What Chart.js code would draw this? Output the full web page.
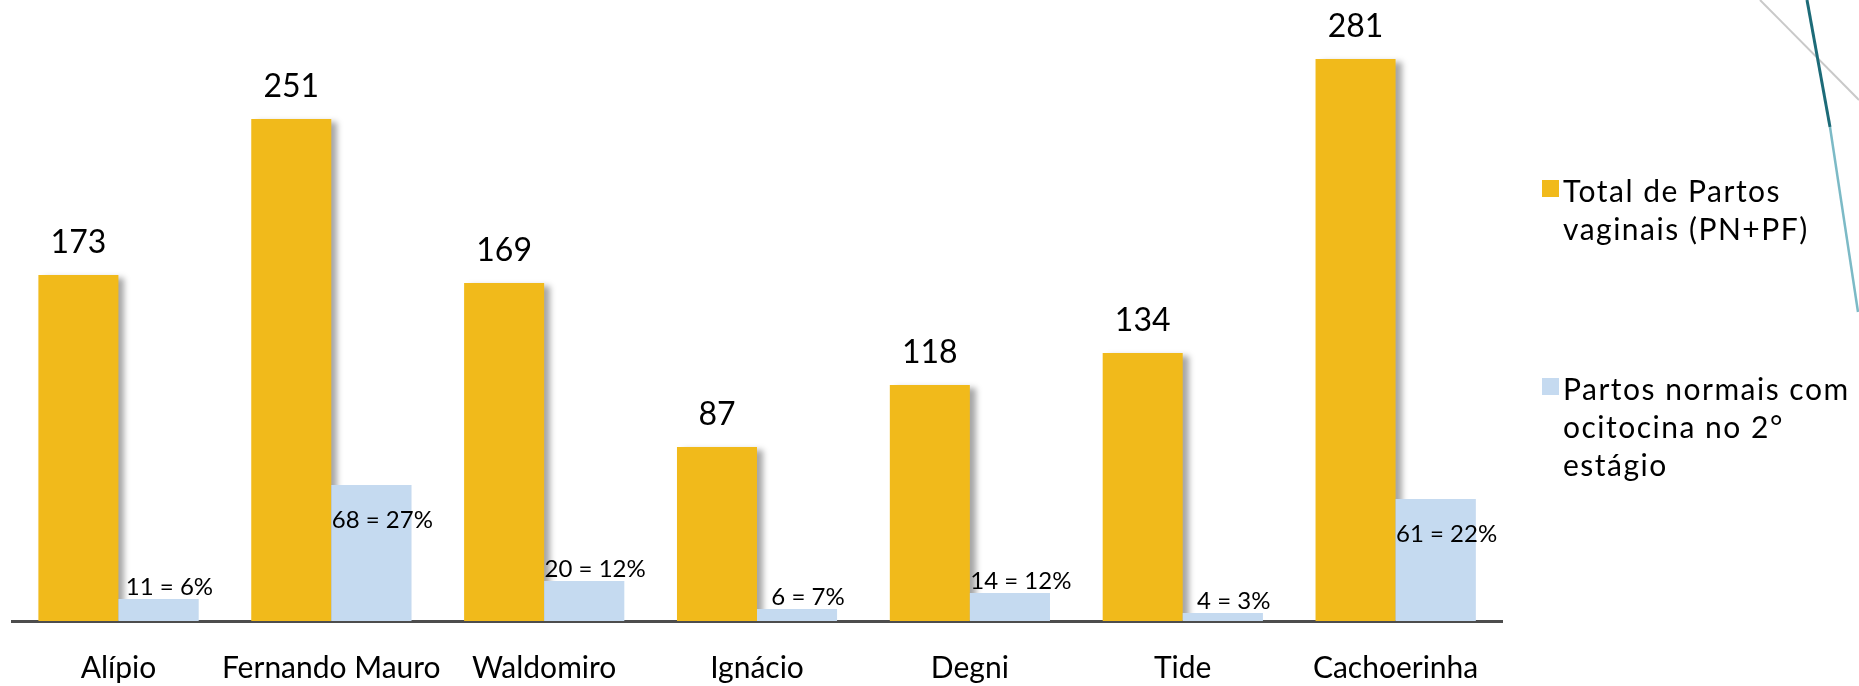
<!DOCTYPE html>
<html>
<head>
<meta charset="utf-8">
<script src="https://cdn.jsdelivr.net/npm/chart.js@4.4.1/dist/chart.umd.min.js"></script>
<style>
  html, body { margin: 0; padding: 0; background: #fff; }
  #wrap { position: relative; width: 1859px; height: 686px; overflow: hidden; }
  #chart { position: absolute; left: 0; top: 0; }
  .legend-item { position: absolute; left: 1542px; font-family: Lato, sans-serif; font-size: 30px; line-height: 38px; letter-spacing: 1.5px; color: #000; }
  .legend-item .box { position: absolute; left: 0; top: 9px; width: 17px; height: 17px; }
  .legend-item .txt { margin-left: 21px; white-space: nowrap; }
  #deco { position: absolute; left: 0; top: 0; }
</style>
</head>
<body>
<div id="wrap">
  <canvas id="chart" width="1859" height="686"></canvas>
  <svg id="deco" width="1859" height="686">
    <line x1="1760" y1="0" x2="1859" y2="100" stroke="#c9c9c9" stroke-width="2"/>
    <line x1="1807" y1="0" x2="1830" y2="127" stroke="#1d6b78" stroke-width="3"/>
    <line x1="1830" y1="127" x2="1858" y2="312" stroke="#7cbac6" stroke-width="2.5"/>
  </svg>
  <div id="legend"></div>
</div>
<script>
// dados
const maternidades = ['Alípio', 'Fernando Mauro', 'Waldomiro', 'Ignácio', 'Degni', 'Tide', 'Cachoerinha'];
const totalVaginais = [173, 251, 169, 87, 118, 134, 281];
const ocitocina = [11, 68, 20, 6, 14, 4, 61];
const seriesLabels = [
  ['Total de Partos', 'vaginais (PN+PF)'],
  ['Partos normais com', 'ocitocina no 2°', 'estágio'],
];

const GOLD = '#F1BA1B';
const BLUE = '#C5DAF0';

// sombra só nas barras amarelas
const shadowPlugin = {
  id: 'barShadow',
  beforeDatasetDraw(chart, args) {
    if (args.index !== 0) return;
    const ctx = chart.ctx;
    ctx.save();
    ctx.shadowColor = 'rgba(0,0,0,0.35)';
    ctx.shadowBlur = 6;
    ctx.shadowOffsetX = 6;
    ctx.shadowOffsetY = 3;
  },
  afterDatasetDraw(chart, args) {
    if (args.index !== 0) return;
    chart.ctx.restore();
  },
};

const labelPlugin = {
  id: 'barLabels',
  afterDatasetsDraw(chart) {
    const ctx = chart.ctx;
    // azul por cima da sombra das barras amarelas
    chart.getDatasetMeta(1).data.forEach((bar) => bar.draw(ctx));

    ctx.save();
    ctx.fillStyle = '#000';
    ctx.textAlign = 'center';
    ctx.font = '32px Lato';
    ctx.textBaseline = 'alphabetic';
    chart.getDatasetMeta(0).data.forEach((bar, i) => {
      ctx.fillText(String(totalVaginais[i]), bar.x, bar.y - 22);
    });
    ctx.font = '24px Lato';
    ctx.textBaseline = 'middle';
    chart.getDatasetMeta(1).data.forEach((bar, i) => {
      const pct = Math.round((ocitocina[i] / totalVaginais[i]) * 100);
      const y = ocitocina[i] > 40 ? bar.y + 35 : bar.y - 12;
      ctx.fillText(ocitocina[i] + ' = ' + pct + '%', bar.x + 11, y);
    });
    ctx.restore();
  },
};

const chart = new Chart(document.getElementById('chart'), {
  type: 'bar',
  data: {
    labels: maternidades,
    datasets: [
      { label: seriesLabels[0], data: totalVaginais, backgroundColor: GOLD },
      { label: seriesLabels[1], data: ocitocina, backgroundColor: BLUE },
    ],
  },
  options: {
    responsive: false,
    animation: false,
    layout: { padding: { left: 12, right: 357, top: 21, bottom: 0 } },
    datasets: { bar: { barPercentage: 1, categoryPercentage: 0.752 } },
    plugins: { legend: { display: false }, tooltip: { enabled: false } },
    scales: {
      x: {
        grid: { display: false, drawTicks: false },
        border: { display: true, color: '#4d4d4d', width: 3 },
        ticks: { color: '#000', font: { family: 'Lato', size: 30, lineHeight: 1.1 }, padding: 31, maxRotation: 0, autoSkip: false },
        afterFit: (scale) => { scale.height = 65; },
      },
      y: { display: false, min: 0, max: 300 },
    },
  },
  plugins: [shadowPlugin, labelPlugin],
});

// legenda em HTML, com as cores dos datasets
const tops = [171, 369];
const legend = document.getElementById('legend');
chart.data.datasets.forEach((ds, i) => {
  const item = document.createElement('div');
  item.className = 'legend-item';
  item.style.top = tops[i] + 'px';
  const box = document.createElement('span');
  box.className = 'box';
  box.style.background = ds.backgroundColor;
  item.appendChild(box);
  ds.label.forEach((line) => {
    const t = document.createElement('div');
    t.className = 'txt';
    t.textContent = line;
    item.appendChild(t);
  });
  legend.appendChild(item);
});
</script>
</body>
</html>
